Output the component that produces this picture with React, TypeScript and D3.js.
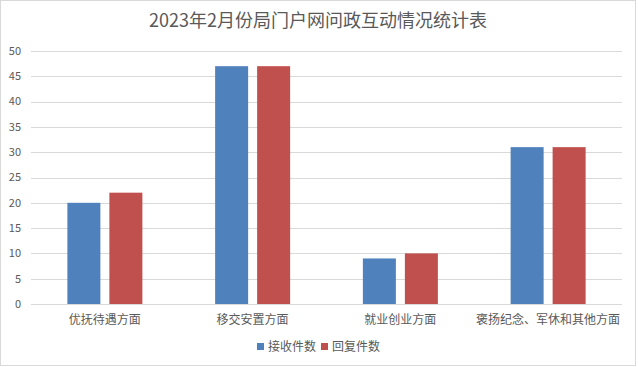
import React, { useEffect, useRef } from 'react';
import * as d3 from 'd3';

const title = '2023年2月份局门户网问政互动情况统计表';
const categories = ['优抚待遇方面', '移交安置方面', '就业创业方面', '褒扬纪念、军休和其他方面'];
const seriesNames = ['接收件数', '回复件数'];
const received = [20, 47, 9, 31];
const replied = [22, 47, 10, 31];
const yTicks = [0, 5, 10, 15, 20, 25, 30, 35, 40, 45, 50];
const colors = ['#4F81BD', '#C0504D'];

const W = 638;
const H = 367;

export default function App() {
  const svgRef = useRef<SVGSVGElement>(null);

  useEffect(() => {
    document.body.style.margin = '0';
    if (!svgRef.current) return;

    const svg = d3.select(svgRef.current);
    svg.selectAll('*').remove();

    const font = '"Microsoft YaHei", "Noto Sans CJK SC", sans-serif';
    const margin = { left: 31, right: 16, top: 51, bottom: 63 };

    svg.append('rect')
      .attr('x', 0.5).attr('y', 0.5)
      .attr('width', W - 3).attr('height', H - 2)
      .attr('fill', '#fff')
      .attr('stroke', '#d9d9d9');

    const x = d3.scaleBand<string>()
      .domain(categories)
      .range([margin.left, W - margin.right])
      .padding(0);

    const y = d3.scaleLinear()
      .domain([0, 50])
      .range([H - margin.bottom, margin.top]);

    // grid
    svg.append('g')
      .selectAll('line')
      .data(yTicks)
      .join('line')
      .attr('x1', margin.left)
      .attr('x2', W - margin.right)
      .attr('y1', d => Math.round(y(d)) + 0.5)
      .attr('y2', d => Math.round(y(d)) + 0.5)
      .attr('stroke', '#d9d9d9')
      .attr('stroke-width', 1);

    // y labels
    svg.append('g')
      .selectAll('text')
      .data(yTicks)
      .join('text')
      .attr('x', 21)
      .attr('y', d => y(d))
      .attr('dy', '0.35em')
      .attr('text-anchor', 'end')
      .attr('font-family', font)
      .attr('font-size', 11)
      .attr('fill', '#595959')
      .text(d => d);

    const barW = 33;
    const gap = 9;
    const series = [received, replied];

    series.forEach((vals, si) => {
      svg.append('g')
        .selectAll('rect')
        .data(vals)
        .join('rect')
        .attr('x', (_, i) => {
          const c = (x(categories[i]) ?? 0) + x.bandwidth() / 2;
          return si === 0 ? c - gap / 2 - barW : c + gap / 2;
        })
        .attr('y', d => y(d))
        .attr('width', barW)
        .attr('height', d => y(0) - y(d))
        .attr('fill', colors[si]);
    });

    // baseline on top of bars
    svg.append('line')
      .attr('x1', margin.left)
      .attr('x2', W - margin.right)
      .attr('y1', Math.round(y(0)) + 0.5)
      .attr('y2', Math.round(y(0)) + 0.5)
      .attr('stroke', '#d9d9d9');

    // category labels
    svg.append('g')
      .selectAll('text')
      .data(categories)
      .join('text')
      .attr('x', d => (x(d) ?? 0) + x.bandwidth() / 2)
      .attr('y', 324)
      .attr('text-anchor', 'middle')
      .attr('font-family', font)
      .attr('font-size', 12)
      .attr('fill', '#595959')
      .text(d => d);

    // title
    svg.append('text')
      .attr('x', W / 2 - 1)
      .attr('y', 27)
      .attr('text-anchor', 'middle')
      .attr('font-family', font)
      .attr('font-size', 18)
      .attr('fill', '#595959')
      .text(title);

    // legend
    const legendX = [257, 321];
    const lg = svg.append('g');
    seriesNames.forEach((name, i) => {
      lg.append('rect')
        .attr('x', legendX[i])
        .attr('y', 343)
        .attr('width', 7)
        .attr('height', 7)
        .attr('fill', colors[i]);
      lg.append('text')
        .attr('x', legendX[i] + 11)
        .attr('y', 351)
        .attr('font-family', font)
        .attr('font-size', 12)
        .attr('fill', '#595959')
        .text(name);
    });
  }, []);

  return <svg ref={svgRef} width={W} height={H} style={{ display: 'block' }} />;
}
